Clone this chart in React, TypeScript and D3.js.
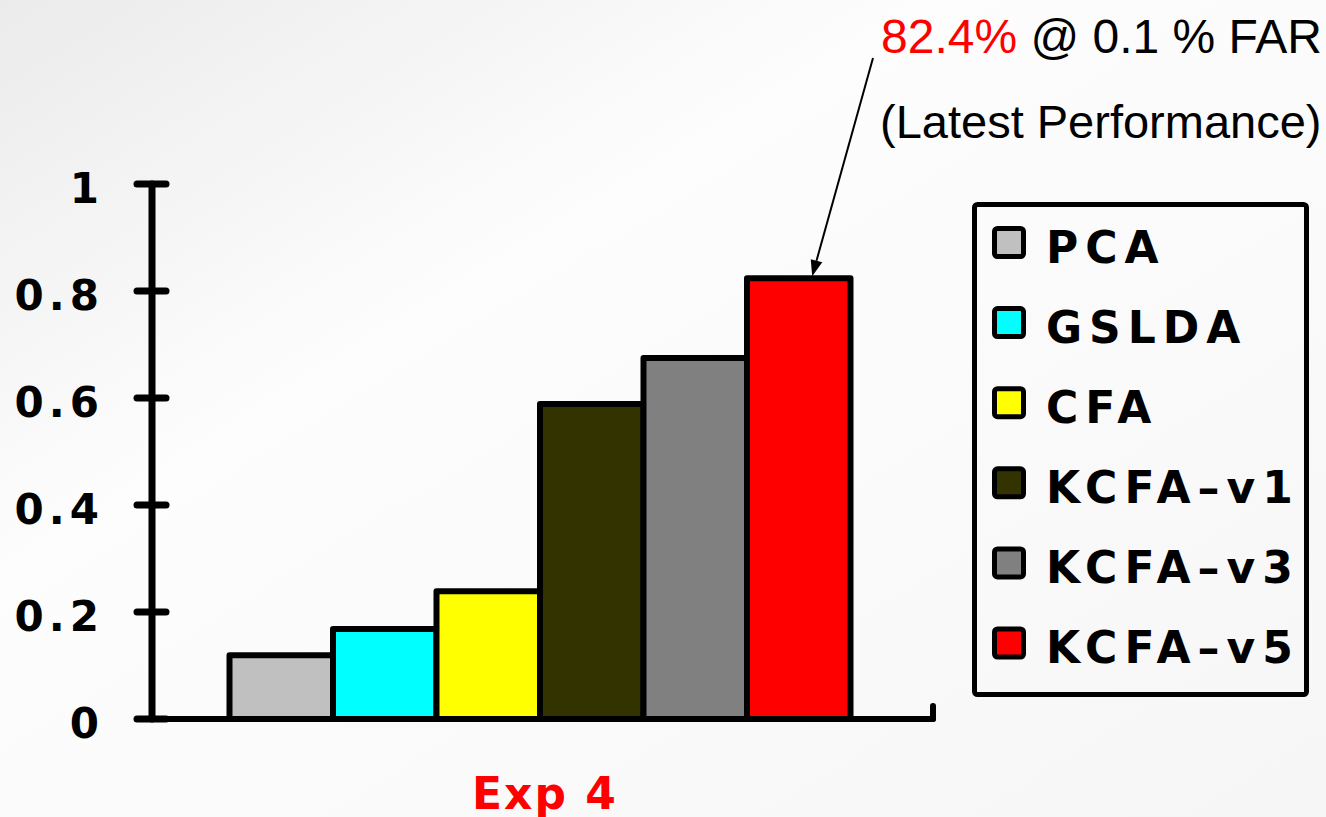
import React from "react";
import * as d3 from "d3";

const categories = ["PCA", "GSLDA", "CFA", "KCFA–v1", "KCFA–v3", "KCFA–v5"];
const values = [0.119, 0.168, 0.239, 0.589, 0.675, 0.824];
const colors = ["#c0c0c0", "#00ffff", "#ffff00", "#333300", "#808080", "#ff0000"];
const tickValues = [0, 0.2, 0.4, 0.6, 0.8, 1];
const tickLabels = ["0", "0.2", "0.4", "0.6", "0.8", "1"];
const groupLabel = "Exp 4";
const annotationValue = "82.4%";
const annotationRest = " @ 0.1 % FAR";
const annotationLine2 = "(Latest Performance)";

const W = 1326;
const H = 817;

export default function App() {
  const y = d3.scaleLinear().domain([0, 1]).range([719, 184]);
  const x = d3.scaleBand<string>().domain(categories).range([229.5, 850.5]).padding(0);
  const legendY = d3.scalePoint<string>().domain(categories).range([242.5, 643]);
  const sw = 6;
  const last = categories[categories.length - 1];
  const tipX = (x(last) as number) + x.bandwidth() * 0.63;
  const tipY = y(values[values.length - 1]) - 2;
  const startX = 873;
  const startY = 58;
  const ang = Math.atan2(tipY - startY, tipX - startX);
  const ah = 16, aw = 6;
  const p1 = [tipX - ah * Math.cos(ang) + aw * Math.sin(ang), tipY - ah * Math.sin(ang) - aw * Math.cos(ang)];
  const p2 = [tipX - ah * Math.cos(ang) - aw * Math.sin(ang), tipY - ah * Math.sin(ang) + aw * Math.cos(ang)];
  const boldFont = "'DejaVu Sans', Verdana, sans-serif";

  return (
    <svg width={W} height={H} style={{ position: "absolute", left: 0, top: 0 }}>
      <defs>
        <linearGradient id="bg" x1="0" y1="0" x2="1" y2="1">
          <stop offset="0" stopColor="#ebebeb" />
          <stop offset="0.35" stopColor="#fdfdfd" />
          <stop offset="1" stopColor="#f6f6f6" />
        </linearGradient>
      </defs>
      <rect x={0} y={0} width={W} height={H} fill="url(#bg)" />

      {/* bars */}
      {categories.map((c, i) => (
        <rect
          key={c}
          x={x(c)}
          y={y(values[i])}
          width={x.bandwidth()}
          height={y(0) - y(values[i])}
          fill={colors[i]}
          stroke="#000"
          strokeWidth={sw}
          strokeLinejoin="round"
        />
      ))}

      {/* y axis */}
      <line x1={152} x2={152} y1={y(1)} y2={y(0)} stroke="#000" strokeWidth={7} strokeLinecap="round" />
      {tickValues.map((t, i) => (
        <g key={t}>
          <line x1={137} x2={166} y1={y(t)} y2={y(t)} stroke="#000" strokeWidth={7} strokeLinecap="round" />
          <text
            x={104}
            y={y(t) + 19}
            textAnchor="end"
            fontFamily={boldFont}
            fontWeight="bold"
            fontSize={42}
            letterSpacing={5}
            fill="#000"
          >
            {tickLabels[i]}
          </text>
        </g>
      ))}

      {/* x axis */}
      <line x1={137} x2={933} y1={y(0)} y2={y(0)} stroke="#000" strokeWidth={6} strokeLinecap="round" />
      <line x1={933} x2={933} y1={y(0)} y2={y(0) - 13} stroke="#000" strokeWidth={6} strokeLinecap="round" />
      <text
        x={545}
        y={809}
        textAnchor="middle"
        fontFamily={boldFont}
        fontWeight="bold"
        fontSize={44}
        letterSpacing={2}
        fill="#ff0000"
      >
        {groupLabel}
      </text>

      {/* legend */}
      <rect x={974.5} y={204.5} width={332} height={490} fill="none" stroke="#000" strokeWidth={5} rx={3} />
      {categories.map((c, i) => {
        const cy = legendY(c) as number;
        return (
          <g key={c}>
            <rect x={994.5} y={cy - 14} width={29} height={28} rx={3} fill={colors[i]} stroke="#000" strokeWidth={5} />
            <text
              x={1046}
              y={cy + 20}
              fontFamily={boldFont}
              fontWeight="bold"
              fontSize={44}
              letterSpacing={7}
              fill="#000"
            >
              {c}
            </text>
          </g>
        );
      })}

      {/* annotation */}
      <line x1={startX} y1={startY} x2={(p1[0] + p2[0]) / 2} y2={(p1[1] + p2[1]) / 2} stroke="#000" strokeWidth={2} />
      <polygon points={`${tipX},${tipY} ${p1[0]},${p1[1]} ${p2[0]},${p2[1]}`} fill="#000" />
      <text x={881} y={53} fontFamily="'Liberation Sans', Arial, sans-serif" fontSize={48} fill="#000">
        <tspan fill="#ff0000">{annotationValue}</tspan>
        <tspan>{annotationRest}</tspan>
      </text>
      <text x={880} y={138} fontFamily="'Liberation Sans', Arial, sans-serif" fontSize={47} fill="#000">
        {annotationLine2}
      </text>
    </svg>
  );
}
